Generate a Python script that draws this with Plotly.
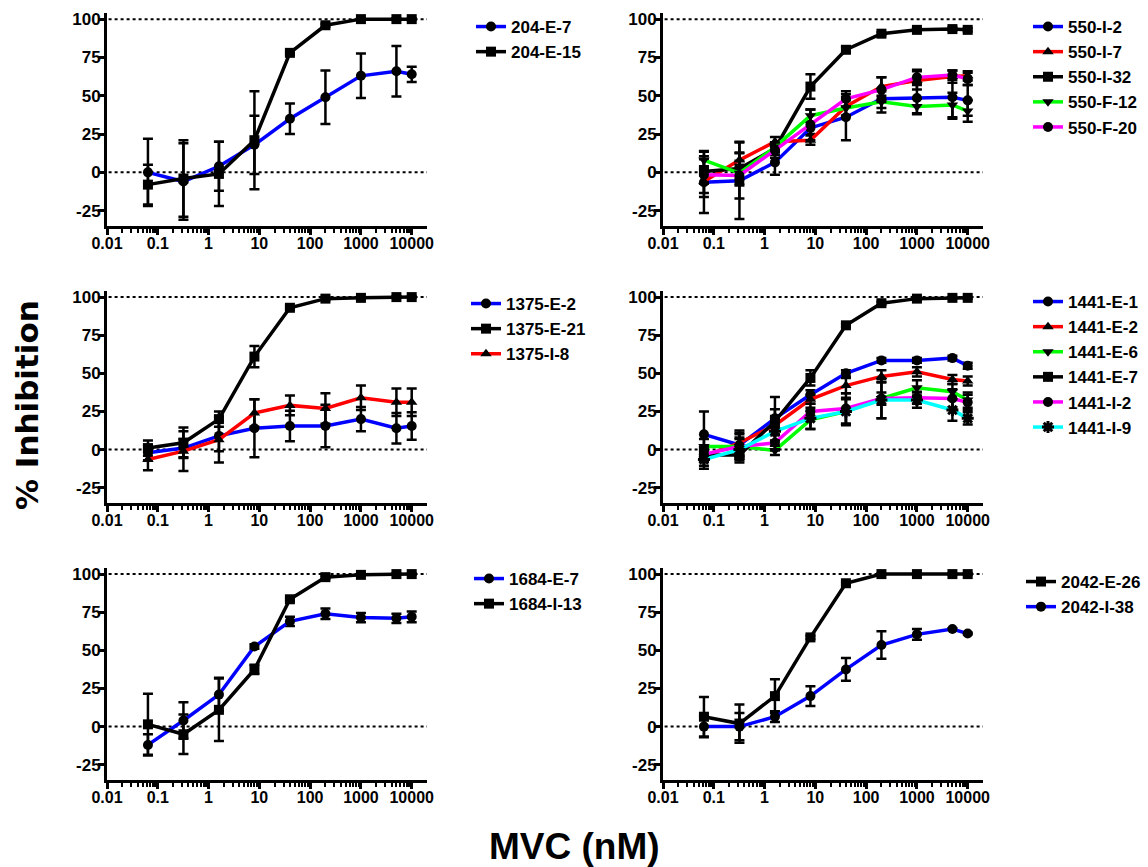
import math
import plotly.graph_objects as go

W, H = 1148, 867

# ---------------- data ----------------
conc = [0.064, 0.32, 1.6, 8, 40, 200, 1000, 5000, 10000]

# Panel 1 : 204
p204_E7 = [0, -6, 4, 18, 35, 49, 63, 66, 64]
p204_E7_err = [22, 25, 16, 19, 10, 17.5, 14.5, 16.5, 5]
p204_E15 = [-8, -4, -1, 21, 78, 96, 100, 100, 100]
p204_E15_err = [13, 25, 21, 32, 1, 1, 0.5, 0.5, 0.5]

# Panel 2 : 550
p550_I2 = [-6.5, -5.5, 6.5, 29, 36, 48, 48.5, 49, 47]
p550_I2_err = [20, 25, 8, 4, 15, 6, 10, 14, 10]
p550_I7 = [-6, 8, 20, 21, 43, 56, 60, 62.5, 63]
p550_I7_err = [10, 12, 3, 3, 6, 6, 6, 4, 3]
p550_I32 = [0.5, 2.5, 15.5, 56, 80, 90.5, 93, 93.5, 93]
p550_I32_err = [8, 10, 4, 8, 2, 1, 1, 1, 1]
p550_F12 = [8, -0.5, 16.5, 37, 42, 46, 43, 44, 40]
p550_F12_err = [6, 8, 3, 4, 5, 7, 5, 8, 7]
p550_F20 = [-1.5, -2, 14.5, 31, 48, 54, 62, 63.5, 61]
p550_F20_err = [12, 15, 5, 10, 5, 8, 5, 3, 4]

# Panel 3 : 1375
p1375_E2 = [-2, 1, 9, 14, 15.5, 15.5, 20, 14, 15.5]
p1375_E2_err = [5, 6, 10, 19, 10, 14, 8, 10, 9]
p1375_E21 = [1, 4.5, 20, 61, 93, 99, 99.5, 100, 100]
p1375_E21_err = [5, 10, 5, 7, 1, 1, 0.5, 0.5, 0.5]
p1375_I8 = [-6.5, -1, 6.5, 24, 29, 27, 34, 31, 31]
p1375_I8_err = [7, 13, 15, 9, 6.5, 10, 8, 9, 9]

# Panel 4 : 1441
p1441_E1 = [10, 3, 20.5, 36, 50, 58.5, 58.5, 60, 55]
p1441_E1_err = [15, 8, 6, 3, 2, 1.5, 1.5, 1.5, 2]
p1441_E2 = [-4.5, 4.5, 16, 33, 42, 48, 51, 46, 45]
p1441_E2_err = [6, 8, 6, 3, 5, 4, 3, 3, 3]
p1441_E6 = [2, 2, -0.5, 19.5, 25, 33.5, 40.5, 38, 32.5]
p1441_E6_err = [5, 8, 3, 6, 9, 13, 5, 5, 5]
p1441_E7 = [-3.5, -3.5, 18.5, 47, 81.5, 96, 99, 99.5, 99.5]
p1441_E7_err = [4, 5, 16, 5, 1, 1, 1, 0.5, 0.5]
p1441_I2 = [-3, 2, 4.5, 25, 27, 33.5, 34, 33.5, 31]
p1441_I2_err = [5, 6, 5, 5, 10, 4, 4, 6, 5]
p1441_I9 = [-6.5, 0, 12, 20.5, 25, 32.5, 32.5, 26, 20.5]
p1441_I9_err = [6, 7, 6, 7, 8, 12, 5, 7, 4]

# Panel 5 : 1684
p1684_E7 = [-12, 4, 21, 52.5, 69, 74, 71.5, 71, 72]
p1684_E7_err = [7, 12, 11, 1.5, 3, 3.5, 3, 3, 3.5]
p1684_I13 = [1.5, -5, 11, 37.5, 83.5, 98, 99.5, 100, 100]
p1684_I13_err = [20, 13, 20.5, 3, 1, 1, 0.5, 0.5, 0.5]

# Panel 6 : 2042
p2042_E26 = [6.5, 2, 20, 58.5, 94, 100, 100, 100, 100]
p2042_E26_err = [13, 12.5, 11, 1, 1, 0.5, 0.5, 0.5, 0.5]
p2042_I38 = [0, 0, 6.5, 20, 37.5, 53.5, 60.5, 64, 61]
p2042_I38_err = [7, 9, 3.5, 6.5, 7.5, 9, 3.5, 0.5, 0.5]

x_tick_vals = [0.01, 0.1, 1, 10, 100, 1000, 10000]
x_tick_text = ["0.01", "0.1", "1", "10", "100", "1000", "10000"]
y_tick_vals = [-25, 0, 25, 50, 75, 100]
y_tick_text = ["-25", "0", "25", "50", "75", "100"]

BLUE, RED, BLACK, GREEN, MAGENTA, CYAN = "#0000ff", "#ff0000", "#000000", "#00ff00", "#ff00ff", "#00ffff"

panels = [
    [("204-E-7", p204_E7, p204_E7_err, BLUE, "circle"),
     ("204-E-15", p204_E15, p204_E15_err, BLACK, "square")],
    [("550-I-2", p550_I2, p550_I2_err, BLUE, "circle"),
     ("550-I-7", p550_I7, p550_I7_err, RED, "triangle-up"),
     ("550-I-32", p550_I32, p550_I32_err, BLACK, "square"),
     ("550-F-12", p550_F12, p550_F12_err, GREEN, "triangle-down"),
     ("550-F-20", p550_F20, p550_F20_err, MAGENTA, "circle")],
    [("1375-E-2", p1375_E2, p1375_E2_err, BLUE, "circle"),
     ("1375-E-21", p1375_E21, p1375_E21_err, BLACK, "square"),
     ("1375-I-8", p1375_I8, p1375_I8_err, RED, "triangle-up")],
    [("1441-E-1", p1441_E1, p1441_E1_err, BLUE, "circle"),
     ("1441-E-2", p1441_E2, p1441_E2_err, RED, "triangle-up"),
     ("1441-E-6", p1441_E6, p1441_E6_err, GREEN, "triangle-down"),
     ("1441-E-7", p1441_E7, p1441_E7_err, BLACK, "square"),
     ("1441-I-2", p1441_I2, p1441_I2_err, MAGENTA, "circle"),
     ("1441-I-9", p1441_I9, p1441_I9_err, CYAN, "asterisk-open")],
    [("1684-E-7", p1684_E7, p1684_E7_err, BLUE, "circle"),
     ("1684-I-13", p1684_I13, p1684_I13_err, BLACK, "square")],
    [("2042-E-26", p2042_E26, p2042_E26_err, BLACK, "square"),
     ("2042-I-38", p2042_I38, p2042_I38_err, BLUE, "circle")],
]

# ---------------- layout geometry (pixels) ----------------
col_px = [(107, 427), (663, 983)]
row_px = [(13, 226), (291, 503), (568, 780)]
legend_pos = [(471, 9), (1028, 9), (466, 286), (1028, 284), (469, 561), (1021, 564)]

FONT = "Liberation Sans, Arial, sans-serif"

fig = go.Figure()
layout = dict(
    width=W, height=H,
    margin=dict(l=0, r=0, t=0, b=0, pad=0, autoexpand=False),
    paper_bgcolor="white", plot_bgcolor="white",
    showlegend=True,
    shapes=[], annotations=[],
)

minor_vals = [k * 10 ** d for d in range(-2, 5) for k in range(2, 10) if k * 10 ** d < 20000]

for i, series in enumerate(panels):
    r, c = divmod(i, 2)
    n = "" if i == 0 else str(i + 1)
    xa, ya = "x" + n, "y" + n
    lg = "legend" + n
    for name, vals, err, color, sym in series:
        mk = dict(symbol=sym, size=10, color=BLACK, line=dict(width=0, color=BLACK))
        if sym == "asterisk-open":
            mk = dict(symbol=sym, size=10, color=BLACK, line=dict(width=3, color=BLACK))
        fig.add_trace(go.Scatter(
            x=conc, y=vals, name=name, mode="lines+markers",
            line=dict(color=color, width=3.5),
            marker=mk,
            error_y=dict(type="data", array=err, visible=True, color=BLACK, thickness=2.5, width=5),
            xaxis=xa, yaxis=ya, legend=lg,
        ))
    x0, x1 = col_px[c]
    y0, y1 = row_px[r]
    layout["xaxis" + n] = dict(
        type="log", range=[-2, math.log10(20000)],
        domain=[x0 / W, x1 / W], anchor=ya,
        tickmode="array", tickvals=x_tick_vals, ticktext=x_tick_text,
        ticks="outside", ticklen=6, tickwidth=3, tickcolor=BLACK,
        ticklabelstandoff=-5,
        minor=dict(tickmode="array", tickvals=minor_vals, ticks="outside", ticklen=4, tickwidth=2, tickcolor=BLACK),
        showline=True, linewidth=3, linecolor=BLACK,
        showgrid=False, zeroline=False, automargin=False,
        tickfont=dict(family=FONT, size=16, color=BLACK, weight="bold"),
    )
    layout["yaxis" + n] = dict(
        range=[-35, 104], domain=[1 - y1 / H, 1 - y0 / H], anchor=xa,
        tickmode="array", tickvals=y_tick_vals, ticktext=y_tick_text,
        ticks="outside", ticklen=6, tickwidth=3, tickcolor=BLACK,
        ticklabelstandoff=-6,
        showline=True, linewidth=3, linecolor=BLACK,
        showgrid=False, zeroline=False, automargin=False,
        tickfont=dict(family=FONT, size=17, color=BLACK, weight="bold"),
    )
    for yv in (0, 100):
        layout["shapes"].append(dict(
            type="line", xref=xa + " domain", yref=ya, x0=0.005, x1=1, y0=yv, y1=yv,
            line=dict(color=BLACK, width=2, dash="dot"), layer="below",
        ))
    lx, ly = legend_pos[i]
    layout[lg] = dict(
        x=lx / W, y=1 - ly / H, xanchor="left", yanchor="top",
        bgcolor="rgba(0,0,0,0)", borderwidth=0,
        font=dict(family=FONT, size=17, color=BLACK, weight="bold"),
        traceorder="normal",
    )

layout["annotations"].append(dict(
    text="% Inhibition", x=27 / W, y=1 - 405 / H, xref="paper", yref="paper",
    showarrow=False, textangle=-90, xanchor="center", yanchor="middle",
    font=dict(family="DejaVu Sans, sans-serif", size=31, color=BLACK, weight="bold"),
))
layout["annotations"].append(dict(
    text="MVC (nM)", x=574 / W, y=1 - 846 / H, xref="paper", yref="paper",
    showarrow=False, xanchor="center", yanchor="middle",
    font=dict(family=FONT, size=37, color=BLACK, weight="bold"),
))

fig.update_layout(**layout)
fig.write_html(
    "out.html",
    config={"displayModeBar": False},
    post_script="document.body.style.margin='0px';document.body.style.overflow='hidden';",
)
